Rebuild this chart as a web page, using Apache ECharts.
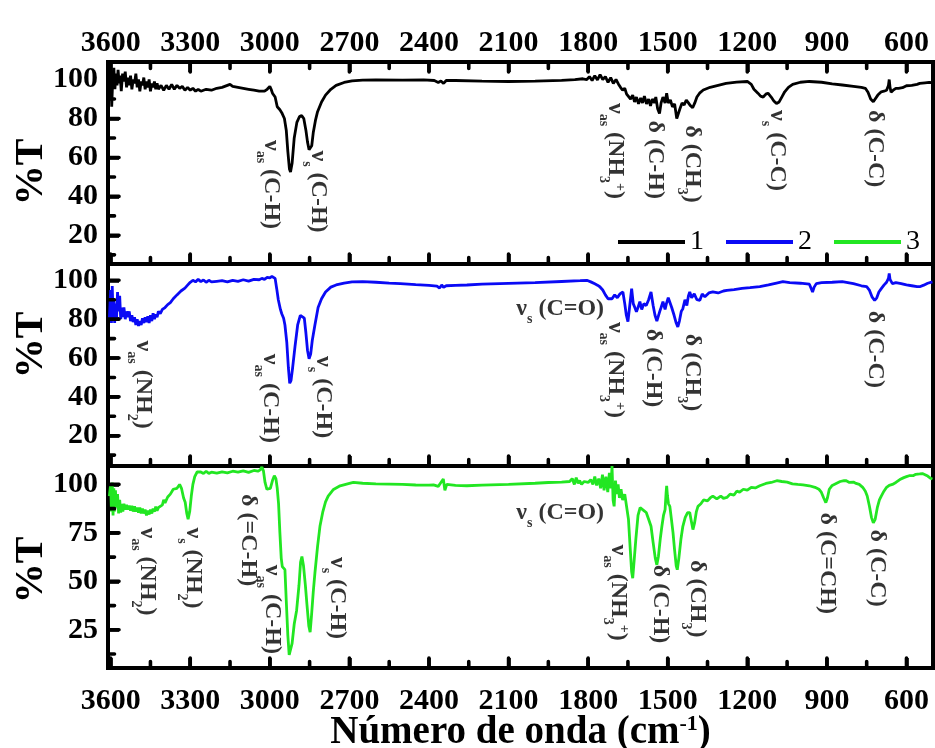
<!DOCTYPE html>
<html>
<head>
<meta charset="utf-8">
<script src="https://cdn.jsdelivr.net/npm/echarts@6/dist/echarts.min.js"></script>
<style>html,body{margin:0;padding:0;background:#fff}#c{width:935px;height:748px}</style>
</head>
<body>
<div id="c"></div>
<script>
// ---- tick values ----
const xMajor = [3600, 3300, 3000, 2700, 2400, 2100, 1800, 1500, 1200, 900, 600];
const xMinor = [3450, 3150, 2850, 2550, 2250, 1950, 1650, 1350, 1050, 750];
const yMajorA = [20, 40, 60, 80, 100];
const yMinorA = [10, 30, 50, 70, 90];
const yMajorC = [25, 50, 75, 100];
const yMinorC = [12.5, 37.5, 62.5, 87.5];
const seriesNames = ['1', '2', '3'];

// ---- spectra: [wavenumber cm-1, %T] ----
const spectrum1 = [[3605,97],[3600,104],[3596,86],[3592,101],[3588,106],[3584,95],[3580,103],[3576,97],[3572,105],[3568,98],[3564,102],[3560,94],[3555,103],[3550,99],[3545,104],[3540,96],[3535,101],[3530,97],[3525,102],[3520,95],[3515,100],[3510,98],[3505,103],[3500,96],[3495,100],[3490,94],[3485,99],[3480,97],[3475,101],[3470,95],[3465,99],[3460,96],[3455,100],[3450,94],[3445,98],[3440,96],[3435,99],[3430,95],[3425,98],[3420,95],[3410,97],[3400,94.5],[3390,97],[3380,95],[3370,97.5],[3360,95],[3350,97],[3340,95.5],[3330,96.5],[3320,94.5],[3310,96],[3300,94.5],[3290,95.5],[3280,94],[3270,95],[3260,94],[3240,95],[3220,94.5],[3200,95.5],[3180,96],[3160,97],[3150,97.5],[3140,96.5],[3120,96],[3100,95.5],[3080,95],[3060,94.5],[3040,94],[3020,94],[3010,95],[3000,96.5],[2995,95],[2990,93],[2980,91],[2972,86],[2962,84.5],[2955,83],[2945,80],[2938,74],[2932,63],[2926,54],[2922,52.5],[2916,57],[2908,70],[2898,78],[2888,81],[2880,81.5],[2872,80],[2864,74],[2858,68],[2852,64],[2847,63.5],[2842,66],[2836,73],[2828,79],[2820,83.5],[2805,88.5],[2790,92],[2770,95],[2750,97],[2720,98.5],[2690,99.3],[2650,99.7],[2600,99.8],[2500,99.7],[2420,99.8],[2380,99.5],[2365,98.5],[2355,99.3],[2345,98],[2335,99.5],[2300,99.5],[2200,99.2],[2100,99],[2000,99.2],[1900,99.6],[1850,100],[1820,100.4],[1805,100],[1795,101.5],[1785,99.5],[1775,102],[1765,99.8],[1755,102.5],[1745,100],[1735,101.5],[1725,98.5],[1715,101],[1705,98],[1695,100],[1685,97.5],[1678,96],[1670,94.5],[1662,95.5],[1655,92.5],[1648,93.5],[1640,90],[1632,92],[1625,88.5],[1618,91],[1610,87.5],[1602,90.5],[1595,88],[1588,91.5],[1580,87.5],[1572,90],[1565,86.5],[1558,90],[1550,88],[1545,91],[1538,85],[1531,82.5],[1525,88],[1518,91],[1510,88],[1504,93],[1498,88],[1490,89.5],[1482,86],[1474,87.5],[1466,80],[1460,79],[1454,85],[1446,88],[1438,87],[1430,89.5],[1422,88],[1414,86.5],[1406,85.5],[1398,88],[1390,91],[1380,93],[1366,94.6],[1340,96],[1310,97],[1280,98],[1240,98.7],[1200,99],[1185,97.5],[1175,95],[1160,93],[1150,91.5],[1140,91],[1130,92.5],[1122,93],[1110,91],[1100,89],[1090,87.7],[1080,88.5],[1070,91],[1059,93.7],[1045,96],[1029,97.5],[1000,98.6],[966,99],[920,98.6],[880,97.8],[842,97.2],[800,96.5],[770,96],[755,95.5],[745,93.5],[735,90],[725,88.6],[718,89],[708,92],[695,93.7],[685,94],[675,94.5],[668,97],[665,100],[662,96],[658,93.5],[650,94.5],[640,95.5],[630,95.5],[615,95.8],[600,96.8],[580,97],[560,97.5],[550,98],[530,98.3],[515,98.5],[502,98.4]];

const spectrum2 = [[3605,80],[3600,95],[3597,78],[3594,97],[3591,82],[3588,90],[3585,78],[3582,88],[3578,80],[3574,94],[3570,84],[3566,92],[3562,80],[3558,86],[3554,81],[3550,86],[3545,80],[3540,84],[3535,81],[3530,84],[3525,79],[3520,82],[3515,78.5],[3510,81],[3505,77],[3500,80],[3495,76.5],[3490,79],[3485,77],[3480,80.5],[3475,78],[3470,81],[3465,78.5],[3460,81.5],[3455,78],[3450,82],[3445,79],[3440,83],[3435,80],[3430,82.5],[3425,81],[3420,84],[3413,82.8],[3405,85],[3395,86],[3385,87.5],[3375,88.5],[3364,90.5],[3350,92.5],[3335,94.5],[3320,96],[3310,97.5],[3300,99],[3290,100],[3280,99.2],[3270,100.5],[3260,99.3],[3250,100.2],[3240,99],[3230,100],[3220,99.2],[3200,99.5],[3180,99.8],[3160,99.2],[3140,100],[3120,99.5],[3100,100.3],[3080,99.6],[3060,100.5],[3040,100.3],[3030,101],[3020,100.5],[3010,101.5],[3000,101.2],[2992,102],[2987,102.6],[2980,101],[2974,95.7],[2968,90],[2960,85],[2955,82.8],[2948,80.5],[2943,77],[2936,68],[2930,55],[2925,47],[2920,48.5],[2914,55],[2905,66],[2895,77],[2885,82],[2878,83],[2870,80.5],[2864,73],[2858,64],[2852,59.6],[2846,62],[2840,69],[2830,77],[2818,86],[2805,90.5],[2790,94],[2770,96.5],[2750,97.6],[2720,98.6],[2690,99.2],[2650,99.3],[2600,99],[2550,98.6],[2508,98.3],[2450,97.8],[2400,97.4],[2370,97],[2360,96],[2352,97.6],[2345,96.4],[2335,97.2],[2300,97.4],[2257,97.6],[2200,98],[2100,98.4],[2000,98.8],[1900,99.4],[1830,99.8],[1805,100],[1790,99.2],[1775,98.2],[1765,97.5],[1756,96.7],[1745,95],[1735,92.5],[1725,90.5],[1718,89.7],[1710,90.5],[1700,92.5],[1690,91],[1680,93],[1669,94],[1662,88],[1656,82],[1650,78.7],[1644,86],[1636,95.7],[1630,88],[1624,86],[1618,83.8],[1612,86],[1605,89],[1598,85],[1590,88],[1581,87],[1572,90],[1563,94],[1555,87],[1548,82],[1541,79],[1537,78.7],[1530,84],[1525,86],[1518,89],[1510,85],[1505,88],[1498,91],[1492,90.5],[1485,86],[1476,82],[1468,78],[1462,76],[1456,79],[1449,84],[1443,85.4],[1435,90],[1428,87],[1422,92],[1417,94],[1410,91],[1400,93],[1390,90],[1379,89.7],[1370,93],[1360,91.5],[1345,93.5],[1330,94],[1310,93.5],[1290,94.5],[1277,94.8],[1250,95.2],[1220,95.8],[1190,96.2],[1153,96.7],[1120,97.6],[1090,98.6],[1066,99.3],[1040,98.8],[1000,98.5],[975,98.2],[966,98],[960,96],[954,94],[948,96.5],[940,98.3],[920,98.8],[880,99],[842,99.3],[800,98.3],[770,97.2],[750,96.7],[740,95],[730,91.5],[720,89.7],[712,91],[704,94],[695,95.7],[685,97.5],[675,99],[668,101],[665,103.5],[662,100.5],[653,98.3],[640,98.8],[620,98.3],[600,97.6],[580,97.2],[560,96.8],[550,96.7],[535,97.5],[520,98.5],[502,99.2]];

const spectrum3 = [[3605,94],[3600,100],[3597,86],[3594,101],[3591,84],[3588,98],[3585,86],[3582,97],[3578,88],[3574,95],[3570,85],[3566,92],[3562,85.5],[3558,90],[3554,86],[3550,90],[3545,87],[3540,89.5],[3535,87],[3530,89],[3525,86.5],[3520,89],[3515,86],[3510,88.7],[3505,86],[3500,88],[3495,85.5],[3490,88],[3485,85],[3480,87.5],[3475,85],[3470,87],[3465,84],[3460,86.5],[3455,84.5],[3450,87],[3445,85],[3440,87.5],[3435,86],[3430,88.5],[3425,86.5],[3420,88],[3413,87],[3405,89.5],[3400,92],[3395,90.5],[3385,93.5],[3375,95],[3364,97.5],[3350,98],[3340,100],[3333,98],[3325,93],[3319,90.8],[3313,85],[3308,82],[3302,86],[3296,94],[3290,100],[3283,104],[3274,106.4],[3262,106.5],[3250,105.6],[3240,106.8],[3230,105.7],[3220,106.3],[3200,105.8],[3180,106.5],[3160,106],[3140,106.8],[3120,106.3],[3100,107],[3080,106.2],[3060,107.2],[3045,106.8],[3036,107.5],[3030,109],[3024,107],[3018,101],[3011,97.5],[3004,96.5],[2998,98],[2990,102],[2983,104.5],[2977,103],[2972,98],[2967,90],[2962,75],[2957,62],[2953,57.6],[2947,57],[2943,56],[2938,40],[2932,22],[2927,12],[2922,11.6],[2916,18],[2908,28],[2899,35],[2890,48],[2884,60],[2879,62.8],[2873,58],[2866,48],[2860,38],[2853,27],[2848,23.8],[2843,32],[2836,45],[2830,54.3],[2820,68],[2811,78.4],[2800,86],[2790,91],[2780,94],[2760,97.4],[2735,99.3],[2700,100.5],[2685,101],[2650,100.6],[2600,100.3],[2550,100.2],[2500,100],[2450,99.7],[2400,99.6],[2383,99.8],[2365,99],[2355,101],[2346,102.8],[2340,97],[2333,100],[2300,99.5],[2257,99.3],[2200,99.6],[2100,100],[2000,100.6],[1950,101],[1900,101.2],[1870,101.5],[1860,103],[1852,100],[1845,103.5],[1838,100.5],[1832,102],[1825,100],[1815,101.5],[1800,101],[1790,102.5],[1782,100],[1775,104],[1768,99.5],[1760,103],[1753,98],[1746,105],[1740,97],[1733,104],[1726,96],[1720,106],[1714,98],[1710,109.5],[1706,92],[1702,88.7],[1697,102],[1692,95],[1687,100],[1682,93],[1676,97.5],[1670,92],[1662,95],[1655,94],[1648,82],[1641,66],[1636,55],[1632,51.6],[1627,60],[1620,72],[1612,84],[1604,88],[1598,88],[1590,86.5],[1581,85.5],[1572,82],[1563,78.4],[1555,70],[1547,62],[1541,58.5],[1535,63],[1528,72],[1522,78.4],[1516,84],[1510,87],[1506,96],[1504,99.3],[1501,94],[1497,90],[1492,88.7],[1486,82],[1480,75],[1474,66],[1468,58],[1464,56],[1458,62],[1450,72],[1443,78.4],[1434,83],[1425,85.5],[1417,85.5],[1411,81],[1405,76.7],[1399,80],[1392,86],[1386,88.7],[1375,90],[1365,92],[1350,91.5],[1340,93],[1330,94],[1315,92.5],[1300,94],[1290,92.8],[1277,93.3],[1265,95],[1250,94.5],[1240,96.5],[1229,96],[1215,97.5],[1200,97],[1185,98.5],[1170,98.2],[1153,99.3],[1130,100.5],[1110,101],[1089,101.9],[1070,101.5],[1050,101.2],[1030,100.3],[1010,100],[990,99.8],[966,99.3],[945,98.5],[930,97.5],[921,96],[912,93],[904,90.6],[898,93],[891,97.5],[880,99.5],[865,100.5],[850,101.5],[835,102],[827,101.9],[815,101],[800,101.2],[790,100.5],[778,100],[765,98.5],[755,96.5],[748,94],[740,89],[732,83],[725,80.2],[718,82],[710,88],[702,92],[695,94],[685,96.5],[675,98.5],[665,99.5],[653,100],[640,101],[625,102.5],[610,103.5],[600,104],[590,104.5],[575,104.5],[565,105.2],[550,105.4],[540,105.6],[530,105],[520,104.3],[510,103.2],[502,102.8]];

// ---- band annotations: [rich text, wavenumber, %T, orientation] ----
const notes1 = [
  ['{m|ν}{s|as}{m| (C-H)}', 2995, 69, 'v'],
  ['{m|ν}{s|s}{m| (C-H)}', 2818, 63.6, 'v'],
  ['{m|ν}{s|as}{m| (NH}{s|3}{p|+}{m|)}', 1699, 88, 'v'],
  ['{m|δ (C-H)}', 1546, 79, 'v'],
  ['{m|δ (CH}{s|3}{m|)}', 1408, 76.5, 'v'],
  ['{m|ν}{s|s}{m| (C-C)}', 1088, 84.3, 'v'],
  ['{m|δ (C-C)}', 719, 84.3, 'v']
];
const notes2 = [
  ['{m|ν}{s|as}{m| (NH}{s|2}{m|)}', 3478, 69, 'v'],
  ['{m|ν}{s|as}{m| (C-H)}', 2999, 62.2, 'v'],
  ['{m|ν}{s|s}{m| (C-H)}', 2800, 61, 'v'],
  ['{m|ν}{s|s}{m| (C=O)}', 1740, 85.4, 'h'],
  ['{m|ν}{s|as}{m| (NH}{s|3}{p|+}{m|)}', 1699, 78.6, 'v'],
  ['{m|δ (C-H)}', 1555, 75, 'v'],
  ['{m|δ (CH}{s|3}{m|)}', 1408, 72.5, 'v'],
  ['{m|δ (C-C)}', 719, 84.3, 'v']
];
const notes3 = [
  ['{m|ν}{s|as}{m| (NH}{s|2}{m|)}', 3463, 77.8, 'v'],
  ['{m|ν}{s|s}{m| (NH}{s|2}{m|)}', 3290, 77.8, 'v'],
  ['{m|δ (=C-H)}', 3082, 95, 'v'],
  ['{m|ν}{s|as}{m| (C-H)}', 2992, 58.5, 'v'],
  ['{m|ν}{s|s}{m| (C-H)}', 2747, 62.6, 'v'],
  ['{m|ν}{s|s}{m| (C=O)}', 1740, 85.5, 'h'],
  ['{m|ν}{s|as}{m| (NH}{s|3}{p|+}{m|)}', 1687, 69, 'v'],
  ['{m|δ (C-H)}', 1529, 58.5, 'v'],
  ['{m|δ (CH}{s|3}{m|)}', 1390, 61, 'v'],
  ['{m|δ (C=CH)}', 900, 85.5, 'v'],
  ['{m|δ (C-C)}', 711, 76.7, 'v']
];

const FONT = 'Liberation Serif';
const colors = ['#000000', '#0a0af5', '#22e622'];
const spectra = [spectrum1, spectrum2, spectrum3];
const notes = [notes1, notes2, notes3];
const X_MIN = 500, X_MAX = 3610;
const yRanges = [[5.3, 109], [4.4, 108.4], [5.3, 109.5]];
const yMaj = [yMajorA, yMajorA, yMajorC];
const yMin = [yMinorA, yMinorA, yMinorC];
const tops = [62, 264, 466];
const GRID_H = 202, GRID_W = 825;
const namePads = [[0, 18, 0, 0], [0, 0, 0, 40], [0, 6, 0, 0]];

const richStyles = {
  m: {fontFamily: FONT, fontSize: 24, fontWeight: 'bold', color: '#000', lineHeight: 24, verticalAlign: 'top'},
  s: {fontFamily: FONT, fontSize: 14, fontWeight: 'bold', color: '#000', lineHeight: 14, padding: [16, 0, 0, 0], verticalAlign: 'top'},
  p: {fontFamily: FONT, fontSize: 14, fontWeight: 'bold', color: '#000', lineHeight: 14, padding: [0, 0, 0, 0], verticalAlign: 'top'}
};

const grid = tops.map(t => ({left: 108, right: 2, top: t, height: GRID_H, show: true, borderColor: '#000', borderWidth: 4, backgroundColor: 'transparent', containLabel: false, outerBoundsMode: 'none'}));

const tickStyle = {color: '#000', width: 3.6};
const xAxis = [];
const yAxis = [];
const lineOn = {show: true, onZero: false, lineStyle: {color: '#000', width: 4}};
for (let i = 0; i < 3; i++) {
  const ax = {
    type: 'value', gridIndex: i, position: 'bottom', inverse: true, min: X_MIN, max: X_MAX,
    axisLine: lineOn, splitLine: {show: false},
    axisTick: {show: true, inside: true, length: 10, customValues: xMajor, lineStyle: tickStyle},
    axisLabel: i === 2 ? {show: true, customValues: xMajor, formatter: v => String(v), fontFamily: FONT, fontWeight: 'bold', fontSize: 30, color: '#000', margin: 18} : {show: false}
  };
  if (i === 2) {
    ax.name = 'Número de onda (cm{sup|-1})';
    ax.nameLocation = 'middle';
    ax.nameGap = 45;
    ax.nameMoveOverlap = false;
    ax.nameTextStyle = {fontFamily: FONT, fontWeight: 'bold', fontSize: 39, color: '#000',
      rich: {sup: {fontFamily: FONT, fontWeight: 'bold', fontSize: 22, color: '#000', verticalAlign: 'top', lineHeight: 22}}};
  }
  xAxis.push(ax);
  yAxis.push({
    type: 'value', gridIndex: i, position: 'left', min: yRanges[i][0], max: yRanges[i][1],
    axisLine: lineOn, splitLine: {show: false},
    axisTick: {show: true, inside: true, length: 11, customValues: yMaj[i], lineStyle: tickStyle},
    axisLabel: {show: true, customValues: yMaj[i], formatter: v => String(v), fontFamily: FONT, fontWeight: 'bold', fontSize: 30, color: '#000', margin: 10},
    name: '%T', nameLocation: 'middle', nameGap: 56, nameMoveOverlap: false,
    nameTextStyle: {fontFamily: FONT, fontWeight: 'bold', fontSize: 40, color: '#000', padding: namePads[i]}
  });
}
// top axis of first panel
xAxis.push({
  type: 'value', gridIndex: 0, position: 'top', inverse: true, min: X_MIN, max: X_MAX,
  axisLine: lineOn, splitLine: {show: false},
  axisTick: {show: true, inside: true, length: 10, customValues: xMajor, lineStyle: tickStyle},
  axisLabel: {show: true, customValues: xMajor, formatter: v => String(v), fontFamily: FONT, fontWeight: 'bold', fontSize: 30, color: '#000', margin: 4}
});

// tick marks (major + minor) as short segments in each panel's data space (lengths given in pixels)
function tickSegments(i) {
  const [y0, y1] = yRanges[i];
  const perPxY = (y1 - y0) / GRID_H;
  const perPxX = (X_MAX - X_MIN) / GRID_W;
  const d = [];
  const xs = xMajor.map(v => [v, 10]).concat(xMinor.map(v => [v, 6.5]));
  xs.forEach(([v, L]) => {
    d.push([v, y0], [v, y0 + L * perPxY], [v, '-']);
    if (i === 0) d.push([v, y1], [v, y1 - L * perPxY], [v, '-']);
  });
  const ys = yMaj[i].map(v => [v, 11]).concat(yMin[i].map(v => [v, 6.5]));
  ys.forEach(([v, L]) => {
    d.push([X_MAX, v], [X_MAX - L * perPxX, v], ['-', v]);
  });
  return d;
}

const series = [];
for (let i = 0; i < 3; i++) {
  series.push({
    name: seriesNames[i], type: 'line', xAxisIndex: i, yAxisIndex: i,
    data: spectra[i], showSymbol: false, symbol: 'none', smooth: false,
    lineStyle: {color: colors[i], width: 2.8}, itemStyle: {color: colors[i]}, z: 3
  });
  series.push({
    name: 'ticks' + i, type: 'line', xAxisIndex: i, yAxisIndex: i,
    data: tickSegments(i), showSymbol: false, symbol: 'none', connectNulls: false, clip: false,
    lineStyle: {color: '#000', width: 3.6, cap: 'round'}, itemStyle: {color: '#000'}, silent: true, z: 6
  });
  series.push({
    name: 'notes' + i, type: 'scatter', xAxisIndex: i, yAxisIndex: i,
    symbolSize: 0, silent: true, z: 4,
    data: notes[i].map(n => ({
      value: [n[1], n[2]], name: n[0],
      label: n[3] === 'v'
        ? {rotate: -90, align: 'left', verticalAlign: 'middle'}
        : {rotate: 0, align: 'right', verticalAlign: 'middle'}
    })),
    label: {show: true, position: [0, 0], formatter: p => p.name, rich: richStyles, color: '#000'}
  });
}

const chart = echarts.init(document.getElementById('c'), null, {renderer: 'canvas'});
chart.setOption({
  animation: false,
  backgroundColor: '#fff',
  grid, xAxis, yAxis, series,
  legend: {
    data: seriesNames, left: 613, top: 223, icon: 'rect', itemWidth: 67, itemHeight: 4, itemGap: 22,
    textStyle: {fontFamily: FONT, fontSize: 28, color: '#000'}, selectedMode: false
  }
});
</script>
</body>
</html>
